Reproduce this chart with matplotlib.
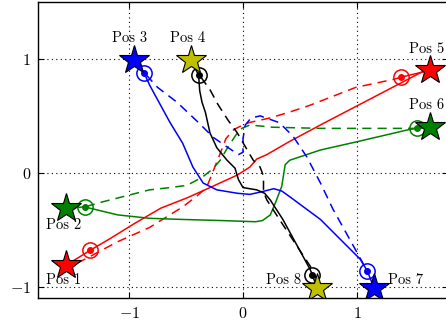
import matplotlib
matplotlib.use('Agg')
import matplotlib.pyplot as plt

plt.rcParams['mathtext.fontset'] = 'cm'
plt.rcParams['font.family'] = 'cmr10'
plt.rcParams['axes.formatter.use_mathtext'] = True

# goal positions (stars)
star_x = [-1.55, -1.55, -0.96, -0.46, 1.64, 1.64, 1.15, 0.65]
star_y = [-0.81, -0.31, 0.99, 0.99, 0.90, 0.40, -1.01, -1.01]
star_colors = ['#ff0000', '#008000', '#0000ff', '#bfbf00',
               '#ff0000', '#008000', '#0000ff', '#bfbf00']
labels = ['Pos 1', 'Pos 2', 'Pos 3', 'Pos 4', 'Pos 5', 'Pos 6', 'Pos 7', 'Pos 8']
label_x = [-1.575, -1.575, -0.996, -0.487, 1.61, 1.61, 1.43, 0.355]
label_y = [-0.94, -0.456, 1.18, 1.18, 1.09, 0.59, -0.94, -0.94]

# robot markers (circles), paired with the star index they point to
circ_x = [-1.34, -1.39, -0.87, -0.39, 1.39, 1.53, 1.09, 0.61]
circ_y = [-0.68, -0.30, 0.88, 0.86, 0.84, 0.39, -0.86, -0.90]
circ_colors = ['#ff0000', '#008000', '#0000ff', 'k',
               '#ff0000', '#008000', '#0000ff', 'k']

# trajectories
red_solid_x = [-1.34, -1.17, -0.96, -0.72, -0.49, -0.29, -0.05, 0.06, 0.12, 0.21, 0.40, 0.68, 1.14, 1.58]
red_solid_y = [-0.68, -0.58, -0.45, -0.31, -0.22, -0.13, -0.02, 0.05, 0.12, 0.16, 0.27, 0.42, 0.66, 0.89]
red_dash_x = [1.39, 1.32, 0.99, 0.58, 0.40, 0.23, 0.05, -0.02, -0.08, -0.15, -0.20, -0.26, -0.32, -0.40, -0.53, -0.82, -1.11, -1.37, -1.47]
red_dash_y = [0.84, 0.82, 0.75, 0.59, 0.53, 0.48, 0.44, 0.41, 0.38, 0.30, 0.17, 0.02, -0.13, -0.20, -0.30, -0.48, -0.61, -0.75, -0.80]

green_solid_x = [-1.39, -1.10, -0.82, -0.53, -0.18, 0.11, 0.17, 0.24, 0.29, 0.34, 0.37, 0.41, 0.50, 0.68, 0.99, 1.46, 1.60]
green_solid_y = [-0.30, -0.37, -0.40, -0.41, -0.42, -0.43, -0.42, -0.37, -0.25, -0.12, 0.07, 0.11, 0.14, 0.20, 0.27, 0.38, 0.40]
green_dash_x = [1.53, 0.68, 0.26, 0.06, -0.01, -0.05, -0.13, -0.20, -0.27, -0.36, -0.49, -0.64, -0.82, -1.25, -1.39]
green_dash_y = [0.39, 0.39, 0.40, 0.42, 0.39, 0.35, 0.23, 0.11, 0.03, -0.04, -0.11, -0.13, -0.15, -0.26, -0.30]

blue_solid_x = [-0.87, -0.82, -0.64, -0.53, -0.44, -0.35, -0.23, -0.05, 0.06, 0.15, 0.27, 0.34, 0.41, 0.68, 1.03, 1.09]
blue_solid_y = [0.88, 0.77, 0.44, 0.26, 0.05, -0.09, -0.15, -0.18, -0.19, -0.17, -0.14, -0.16, -0.21, -0.41, -0.76, -0.86]
blue_dash_x = [-0.85, -0.75, -0.58, -0.39, -0.26, -0.13, -0.04, 0.0, 0.0, 0.02, 0.07, 0.15, 0.32, 0.44, 0.56, 0.68, 0.79, 0.99, 1.05, 1.09]
blue_dash_y = [0.86, 0.75, 0.62, 0.44, 0.31, 0.22, 0.16, 0.18, 0.30, 0.42, 0.48, 0.50, 0.44, 0.32, 0.14, -0.09, -0.32, -0.68, -0.79, -0.86]

black_solid_x = [-0.39, -0.38, -0.36, -0.33, -0.29, -0.23, -0.14, -0.07, -0.04, 0.0, 0.06, 0.12, 0.19, 0.24, 0.35, 0.59, 0.61]
black_solid_y = [0.86, 0.72, 0.62, 0.53, 0.35, 0.22, 0.11, 0.04, -0.06, -0.13, -0.14, -0.15, -0.18, -0.24, -0.41, -0.85, -0.90]
black_dash_x = [-0.37, -0.29, -0.22, -0.13, -0.05, 0.02, 0.09, 0.15, 0.18, 0.18, 0.21, 0.32, 0.59, 0.66]
black_dash_y = [0.84, 0.73, 0.60, 0.46, 0.35, 0.23, 0.11, 0.05, -0.03, -0.17, -0.24, -0.41, -0.82, -0.96]

fig = plt.figure(figsize=(4.46, 3.2), dpi=100)
ax = fig.add_axes([38 / 446, 22 / 320, 410 / 446, 296 / 320])

lw = 1.1
dash = (6, 4)
ax.plot(red_solid_x, red_solid_y, color='#ff0000', lw=lw)
ax.plot(red_dash_x, red_dash_y, color='#ff0000', lw=lw, dashes=dash)
ax.plot(green_solid_x, green_solid_y, color='#008000', lw=lw)
ax.plot(green_dash_x, green_dash_y, color='#008000', lw=lw, dashes=dash)
ax.plot(blue_solid_x, blue_solid_y, color='#0000ff', lw=lw)
ax.plot(blue_dash_x, blue_dash_y, color='#0000ff', lw=lw, dashes=dash)
ax.plot(black_solid_x, black_solid_y, color='k', lw=lw)
ax.plot(black_dash_x, black_dash_y, color='k', lw=lw, dashes=dash)

# heading segments from robot to nearby goal
for i in range(8):
    ax.plot([circ_x[i], star_x[i]], [circ_y[i], star_y[i]], color=circ_colors[i], lw=lw)

for i in range(8):
    ax.plot(circ_x[i], circ_y[i], 'o', ms=11, mfc='none', mec=circ_colors[i], mew=1.1)
    ax.plot(circ_x[i], circ_y[i], 'o', ms=4, color=circ_colors[i])

for i in range(8):
    ax.plot(star_x[i], star_y[i], '*', ms=22, mfc=star_colors[i], mec='k', mew=0.8)
    ax.text(label_x[i], label_y[i], labels[i], ha='center', va='center', fontsize=10.5)

ax.set_xlim(-1.8, 1.8)
ax.set_ylim(-1.1, 1.5)
ax.set_xticks([-1, 0, 1])
ax.set_yticks([-1, 0, 1])
ax.set_xticklabels(['$-1$', '$0$', '$1$'])
ax.set_yticklabels(['$-1$', '$0$', '$1$'])
ax.tick_params(direction='in', length=4, width=0.8, top=True, right=True, labelsize=11.5)
ax.tick_params(axis='x', pad=6)
ax.tick_params(axis='y', pad=5)
ax.grid(True, linestyle=(0, (1, 3)), color='k', lw=0.8)
for s in ax.spines.values():
    s.set_linewidth(1.0)

fig.savefig('out.png', dpi=100)
